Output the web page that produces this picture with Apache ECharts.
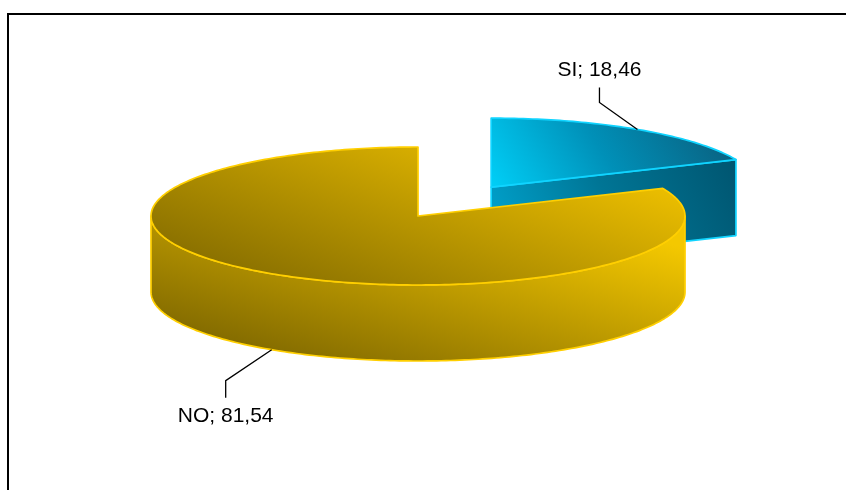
<!DOCTYPE html>
<html>
<head>
<meta charset="utf-8">
<script src="https://cdn.jsdelivr.net/npm/echarts@6/dist/echarts.min.js"></script>
<style>
  html, body { margin: 0; padding: 0; background: #ffffff; }
  #chart { width: 846px; height: 490px; }
</style>
</head>
<body>
<div id="chart"></div>
<script>
// Answers (percent of respondents)
const categories = ['SI', 'NO'];
const percentages = [18.46, 81.54];

// Per-slice explosion, as a fraction of the radius
const explodeRatio = [0.5, 0];

// Slice shading: gradient end points are pixel offsets from the slice centre
const topShade = [
  { from: [0, 10], to: [200, -115], stops: [['#00d2fa', 0], ['#0090b8', 0.5], ['#0a5f7e', 1]] },
  { from: [-61, 163], to: [42, -114], stops: [['#725d00', 0], ['#b08f00', 0.5], ['#efc100', 1]] }
];
const wallShade = [
  { from: [0, 80], to: [240, -40], stops: [['#00a6d0', 0], ['#005670', 1]] },
  { from: [-37, 207], to: [34, -36], stops: [['#725d00', 0], ['#b39200', 0.5], ['#f4c800', 1]] }
];
const faceShade = [
  { from: [0, 80], to: [244, -30], stops: [['#00a8d4', 0], ['#007595', 0.5], ['#005570', 1]] },
  { from: [0, 80], to: [244, -30], stops: [['#7c6500', 0], ['#f6ca00', 1]] }
];
const outlineColors = ['#10d4ff', '#ffcf00'];

// Projected pie geometry
const pie = { cx: 418, cy: 216, rx: 267, ry: 69, depth: 76, startAngle: 90 };
// Leader lines above / below the pie
const leaderUp = { dx: -38, dy: 27, rise: 15, gap: 17 };
const leaderDown = { dx: -46, dy: 31, rise: 17, gap: 18 };

const total = percentages.reduce((a, b) => a + b, 0);
const startAngles = [];
let acc = 0;
percentages.forEach(v => { startAngles.push(pie.startAngle - acc / total * 360); acc += v; });

const RAD = Math.PI / 180;

function shade(spec, ox, oy) {
  return {
    type: 'linear', global: true,
    x: ox + spec.from[0], y: oy + spec.from[1],
    x2: ox + spec.to[0], y2: oy + spec.to[1],
    colorStops: spec.stops.map(s => ({ color: s[0], offset: s[1] }))
  };
}

function renderItem(params, api) {
  const i = params.dataIndex;
  const value = api.value(1);
  const a0 = api.value(2);
  const a1 = a0 - value / total * 360;
  const mid = (a0 + a1) / 2;
  const e = explodeRatio[i];
  const ox = pie.cx + e * pie.rx * Math.cos(mid * RAD);
  const oy = pie.cy - e * pie.ry * Math.sin(mid * RAD);
  const pt = (deg, dz) => [ox + pie.rx * Math.cos(deg * RAD), oy - pie.ry * Math.sin(deg * RAD) + (dz || 0)];
  const arc = (from, to, dz) => {
    const n = Math.max(2, Math.ceil(Math.abs(from - to)));
    const pts = [];
    for (let k = 0; k <= n; k++) pts.push(pt(from + (to - from) * k / n, dz));
    return pts;
  };
  const outline = { stroke: outlineColors[i], lineWidth: 1.7, lineJoin: 'round' };
  const children = [];

  const face = (deg) => ({
    type: 'polygon',
    shape: { points: [[ox, oy], pt(deg, 0), pt(deg, pie.depth), [ox, oy + pie.depth]] },
    style: Object.assign({ fill: shade(faceShade[i], ox, oy) }, outline)
  });
  // cut faces turned towards the viewer
  if (Math.cos(a0 * RAD) < -1e-6) children.push(face(a0));
  if (Math.cos(a1 * RAD) > 1e-6) children.push(face(a1));

  // front part of the outer wall
  const kMin = Math.floor(a1 / 360) - 1, kMax = Math.ceil(a0 / 360) + 1;
  for (let k = kMin; k <= kMax; k++) {
    const lo = Math.max(a1, -180 + 360 * k), hi = Math.min(a0, 360 * k);
    if (hi - lo > 1e-6) {
      const pts = arc(hi, lo, 0).concat(arc(lo, hi, pie.depth));
      children.push({
        type: 'polygon', shape: { points: pts },
        style: Object.assign({ fill: shade(wallShade[i], ox, oy) }, outline)
      });
    }
  }

  // top surface
  children.push({
    type: 'polygon',
    shape: { points: [[ox, oy]].concat(arc(a0, a1, 0)) },
    style: Object.assign({ fill: shade(topShade[i], ox, oy) }, outline)
  });

  // leader line and label
  const up = Math.sin(mid * RAD) > 0;
  const L = up ? leaderUp : leaderDown;
  const s = up ? -1 : 1;
  const anchor = up ? pt(mid, 0) : pt(mid, pie.depth);
  const elbow = [anchor[0] + L.dx, anchor[1] + s * L.dy];
  const end = [elbow[0], elbow[1] + s * L.rise];
  children.push({
    type: 'polyline',
    shape: { points: [anchor, elbow, end] },
    style: { stroke: '#000000', lineWidth: 1.3, fill: null }
  });
  const label = categories[i] + '; ' + value.toFixed(2).replace('.', ',');
  children.push({
    type: 'text',
    style: {
      text: label, x: end[0], y: end[1] + s * L.gap,
      fill: '#000000', fontSize: 21, fontFamily: '"Liberation Sans", Arial, sans-serif',
      align: 'center', verticalAlign: 'middle'
    }
  });

  return { type: 'group', children: children };
}

const chart = echarts.init(document.getElementById('chart'), null, { renderer: 'canvas' });
chart.setOption({
  animation: false,
  backgroundColor: '#ffffff',
  graphic: [{
    type: 'rect', z: 0,
    shape: { x: 8, y: 14, width: 900, height: 600 },
    style: { fill: 'transparent', stroke: '#000000', lineWidth: 2 }
  }],
  series: [{
    type: 'custom',
    coordinateSystem: 'none',
    renderItem: renderItem,
    data: categories.map((c, i) => ({ name: c, value: [i, percentages[i], startAngles[i]] })),
    z: 2
  }]
});
</script>
</body>
</html>
